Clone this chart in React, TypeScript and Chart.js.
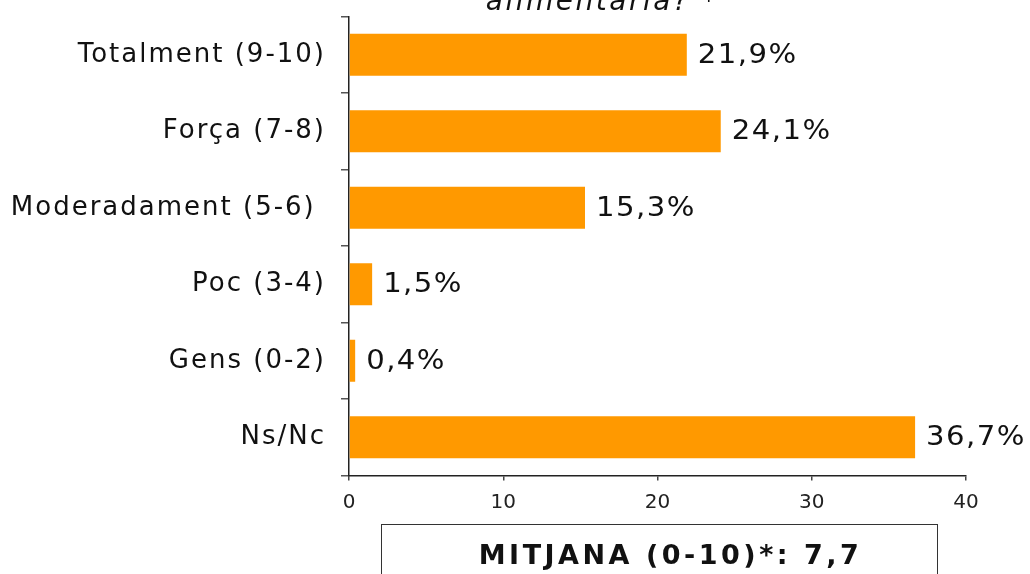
import React, { useEffect, useRef } from "react";
import { Chart, registerables } from "chart.js";

Chart.register(...registerables);

const categories = [
  "Totalment (9-10)",
  "Força (7-8)",
  "Moderadament (5-6) ",
  "Poc (3-4)",
  "Gens (0-2)",
  "Ns/Nc",
];
const values = [21.9, 24.1, 15.3, 1.5, 0.4, 36.7];
const xTicks = [0, 10, 20, 30, 40];
const titleText = "alimentària? *";
const meanText = "MITJANA (0-10)*: 7,7";

const FONT = "'DejaVu Sans', Verdana, sans-serif";

const fmt = (v: number) => v.toFixed(1).replace(".", ",") + "%";

const spacingPlugin = {
  id: "spacing",
  beforeDraw(chart: any) {
    chart.ctx.letterSpacing = "2px";
  },
};

const valueLabels = {
  id: "valueLabels",
  afterDatasetsDraw(chart: any) {
    const ctx = chart.ctx;
    const meta = chart.getDatasetMeta(0);
    meta.data.forEach((bar: any, i: number) => {
      ctx.save();
      ctx.letterSpacing = "1.3px";
      ctx.font = `26px ${FONT}`;
      ctx.fillStyle = "#111";
      ctx.textAlign = "left";
      ctx.textBaseline = "middle";
      ctx.translate(bar.x + 11, bar.y + 1);
      ctx.scale(1.12, 1);
      ctx.fillText(fmt(values[i]), 0, 0);
      ctx.restore();
    });
    ctx.letterSpacing = "0px";
  },
};

export default function App() {
  const ref = useRef<HTMLCanvasElement>(null);
  useEffect(() => {
    document.body.style.margin = "0";
    const chart = new Chart(ref.current!, {
      type: "bar",
      data: {
        labels: categories,
        datasets: [
          {
            data: values,
            backgroundColor: "#FF9900",
            borderWidth: 0,
            barPercentage: 0.55,
            categoryPercentage: 1,
          },
        ],
      },
      options: {
        indexAxis: "y",
        animation: false,
        responsive: false,
        devicePixelRatio: 1,
        layout: { padding: { top: 16.5, right: 64, bottom: 0, left: 0 } },
        plugins: {
          legend: { display: false },
          tooltip: { enabled: false },
          title: { display: false },
        },
        scales: {
          x: {
            min: 0,
            max: 40,
            afterBuildTicks: (scale: any) => {
              scale.ticks = xTicks.map((v) => ({ value: v }));
            },
            afterFit: (scale: any) => {
              scale.height = 98.5;
              scale.paddingLeft = 0;
              scale.paddingRight = 0;
            },
            grid: {
              drawOnChartArea: false,
              tickLength: 5,
              color: "#444",
              lineWidth: 1.5,
            },
            border: { color: "#222", width: 1.5 },
            ticks: {
              font: { family: FONT, size: 20 },
              color: "#222",
              padding: 10,
              maxRotation: 0,
              z: 1,
            },
          },
          y: {
            afterFit: (scale: any) => {
              scale.width = 349;
              scale.paddingTop = 0;
              scale.paddingBottom = 0;
            },
            grid: {
              drawOnChartArea: false,
              offset: true,
              tickLength: 8,
              color: "#555",
              lineWidth: 1.5,
            },
            border: { color: "#222", width: 1.5 },
            ticks: {
              font: { family: FONT, size: 26 },
              color: "#111",
              padding: 15,
            },
          },
        },
      },
      plugins: [spacingPlugin, valueLabels],
    });
    return () => chart.destroy();
  }, []);

  return (
    <div
      style={{
        position: "absolute",
        left: 0,
        top: 0,
        width: 1030,
        height: 574,
        overflow: "hidden",
        background: "#fff",
      }}
    >
      <canvas ref={ref} width={1030} height={574} style={{ display: "block" }} />
      <div
        style={{
          position: "absolute",
          left: 402,
          width: 400,
          top: -13,
          textAlign: "center",
          fontFamily: FONT,
          fontStyle: "italic",
          fontSize: 28,
          lineHeight: "28px",
          letterSpacing: "2.5px",
          color: "#111",
          whiteSpace: "nowrap",
        }}
      >
        {titleText}
      </div>
      <div
        style={{
          position: "absolute",
          left: 381,
          top: 524,
          width: 557,
          height: 80,
          boxSizing: "border-box",
          border: "1.5px solid #333",
          paddingTop: 16,
          paddingLeft: 22,
          textAlign: "center",
          fontFamily: FONT,
          fontWeight: "bold",
          fontSize: 27,
          lineHeight: "27px",
          letterSpacing: "3.5px",
          color: "#111",
          whiteSpace: "nowrap",
        }}
      >
        {meanText}
      </div>
    </div>
  );
}
